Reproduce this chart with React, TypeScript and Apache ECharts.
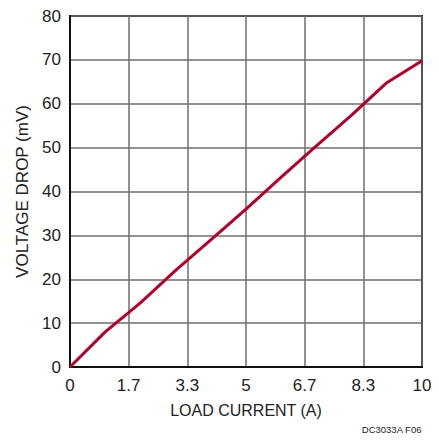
import React, { useEffect, useRef } from "react";
import * as echarts from "echarts";

const loadCurrent = [0, 1, 2, 3, 4, 5, 6, 7, 8, 9, 10];
const voltageDrop = [0, 8, 14.6, 22, 29, 36, 43.3, 50.4, 57.4, 64.8, 69.8];
const xTickStep = 10 / 6;
const yTicks = [0, 10, 20, 30, 40, 50, 60, 70, 80];

const FONT = "'Liberation Sans', Arial, sans-serif";

export default function App() {
  const ref = useRef<HTMLDivElement>(null);
  useEffect(() => {
    if (!ref.current) return;
    const chart = echarts.init(ref.current, null, { renderer: "svg" });
    chart.setOption({
      animation: false,
      backgroundColor: "#ffffff",
      grid: {
        left: 62,
        top: 8,
        width: 352,
        height: 351,
        outerBoundsMode: "none",
        containLabel: false,
        show: true,
        borderColor: "#111",
        borderWidth: 2,
        backgroundColor: "transparent",
      },
      xAxis: {
        type: "value",
        min: 0,
        max: 10,
        interval: xTickStep,
        name: "LOAD CURRENT (A)",
        nameLocation: "middle",
        nameGap: 35,
        nameTextStyle: { fontFamily: FONT, fontSize: 16, color: "#222" },
        axisLine: { show: true, lineStyle: { color: "#111", width: 2 } },
        axisTick: { show: false },
        axisLabel: {
          fontFamily: FONT,
          fontSize: 17,
          color: "#222",
          margin: 10,
          formatter: (v: number) => {
            const r = Math.round(v * 10) / 10;
            return Number.isInteger(r) ? String(r) : r.toFixed(1);
          },
        },
        splitLine: { show: true, lineStyle: { color: "#6e6e6e", width: 1.5 } },
      },
      yAxis: {
        type: "value",
        min: yTicks[0],
        max: yTicks[yTicks.length - 1],
        interval: 10,
        name: "VOLTAGE DROP (mV)",
        nameLocation: "middle",
        nameGap: 39,
        nameRotate: 90,
        nameTextStyle: { fontFamily: FONT, fontSize: 17, color: "#222" },
        axisLine: { show: true, lineStyle: { color: "#111", width: 2 } },
        axisTick: { show: false },
        axisLabel: { fontFamily: FONT, fontSize: 17, color: "#222", margin: 9 },
        splitLine: { show: true, lineStyle: { color: "#6e6e6e", width: 1.5 } },
      },
      series: [
        {
          type: "line",
          data: loadCurrent.map((x, i) => [x, voltageDrop[i]]),
          showSymbol: false,
          lineStyle: { color: "#b0002b", width: 3 },
          z: 5,
        },
      ],
      graphic: [
        {
          type: "text",
          right: 17,
          top: 416,
          style: {
            text: "DC3033A F06",
            fontFamily: FONT,
            fontSize: 9.5,
            fill: "#222",
          },
        },
      ],
    });
    return () => chart.dispose();
  }, []);
  return <div ref={ref} style={{ width: 431, height: 432 }} />;
}
